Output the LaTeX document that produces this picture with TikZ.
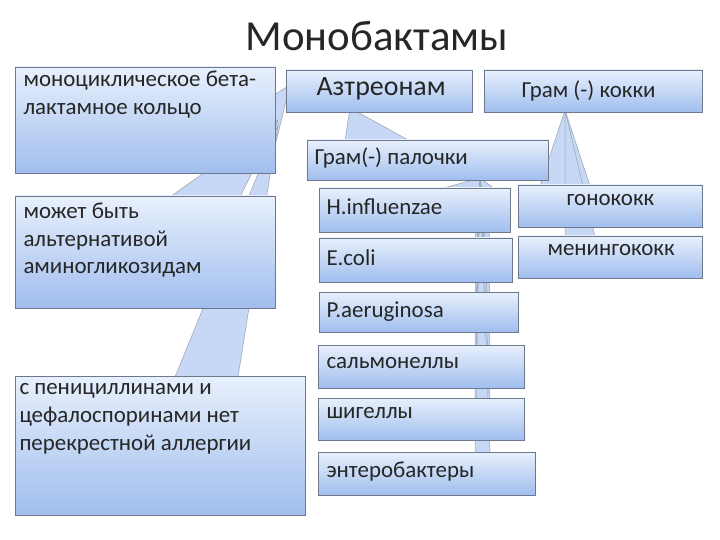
\documentclass[tikz,border=0pt]{standalone}
\usepackage{fontspec}
\setmainfont{Carlito}
\definecolor{btop}{RGB}{232,240,252}
\definecolor{bbot}{RGB}{160,190,238}
\definecolor{bline}{RGB}{110,120,140}
\begin{document}
\begin{tikzpicture}[x=1bp,y=-1bp,
  bx/.style={draw=bline, top color=btop, bottom color=bbot, line width=0.8pt},
  wedge/.style={draw=bline!70, fill=bbot!60, line width=0.5pt},
  tx/.style={font=\fontsize{23}{28}\selectfont, text=black!85, align=left, anchor=north west}]
\useasboundingbox (0,0) rectangle (720,540);
\fill[white] (0,0) rectangle (720,540);
\node[font=\fontsize{43}{48}\selectfont, text=black!85] (title) at (377,36) {Монобактамы};
% wedges
\draw[wedge] (350,108) -- (345,141) -- (410,141) -- cycle;
\draw[wedge] (565,110) -- (540,186) -- (590,186) -- cycle;
\draw[wedge] (565,110) -- (565,237) -- (595,237) -- cycle;
\draw[wedge] (290,85) -- (274,95) -- (274,150) -- cycle;
\draw[wedge] (278,120) -- (170,197) -- (240,197) -- cycle;
\draw[wedge] (278,125) -- (175,377) -- (238,377) -- cycle;
\draw[wedge] (480,178) -- (440,189) -- (495,189) -- cycle;
\draw[wedge] (480,178) -- (475,239) -- (490,239) -- cycle;
\draw[wedge] (480,178) -- (475,293) -- (490,293) -- cycle;
\draw[wedge] (480,178) -- (475,346) -- (490,346) -- cycle;
\draw[wedge] (480,178) -- (475,399) -- (490,399) -- cycle;
\draw[wedge] (480,178) -- (475,453) -- (490,453) -- cycle;
% boxes
\draw[bx] (15,67) rectangle (275,173);
\node[tx] (b1) at (20,67) {моноциклическое бета-\\лактамное кольцо};
\draw[bx] (286,70) rectangle (472,112);
\node[tx, font=\fontsize{28}{32}\selectfont] (b2) at (313,74) {Азтреонам};
\draw[bx] (484,70) rectangle (702,112);
\node[tx] (b3) at (518,77) {Грам (-) кокки};
\draw[bx] (307,140) rectangle (548,180);
\node[tx] (b4) at (311,144) {Грам(-) палочки};
\draw[bx] (15,196) rectangle (275,308);
\node[tx] (b5) at (20,199) {может быть\\альтернативой\\аминогликозидам};
\draw[bx] (319,188) rectangle (510,232);
\node[tx] (b6) at (323,195) {H.influenzae};
\draw[bx] (319,238) rectangle (512,282);
\node[tx] (b7) at (323,246) {E.coli};
\draw[bx] (319,292) rectangle (518,332);
\node[tx] (b8) at (323,298) {P.aeruginosa};
\draw[bx] (318,345) rectangle (524,388);
\node[tx] (b9) at (323,354) {сальмонеллы};
\draw[bx] (318,398) rectangle (524,440);
\node[tx] (b10) at (323,404) {шигеллы};
\draw[bx] (318,452) rectangle (535,495);
\node[tx] (b11) at (323,458) {энтеробактеры};
\draw[bx] (15,376) rectangle (305,515);
\node[tx] (b12) at (16,380) {с пенициллинами и\\цефалоспоринами нет\\перекрестной аллергии};
\draw[bx] (518,185) rectangle (702,227);
\node[tx] (b13) at (563,191) {гонококк};
\draw[bx] (518,236) rectangle (702,278);
\node[tx] (b14) at (544,241) {менингококк};
\end{tikzpicture}
\end{document}
